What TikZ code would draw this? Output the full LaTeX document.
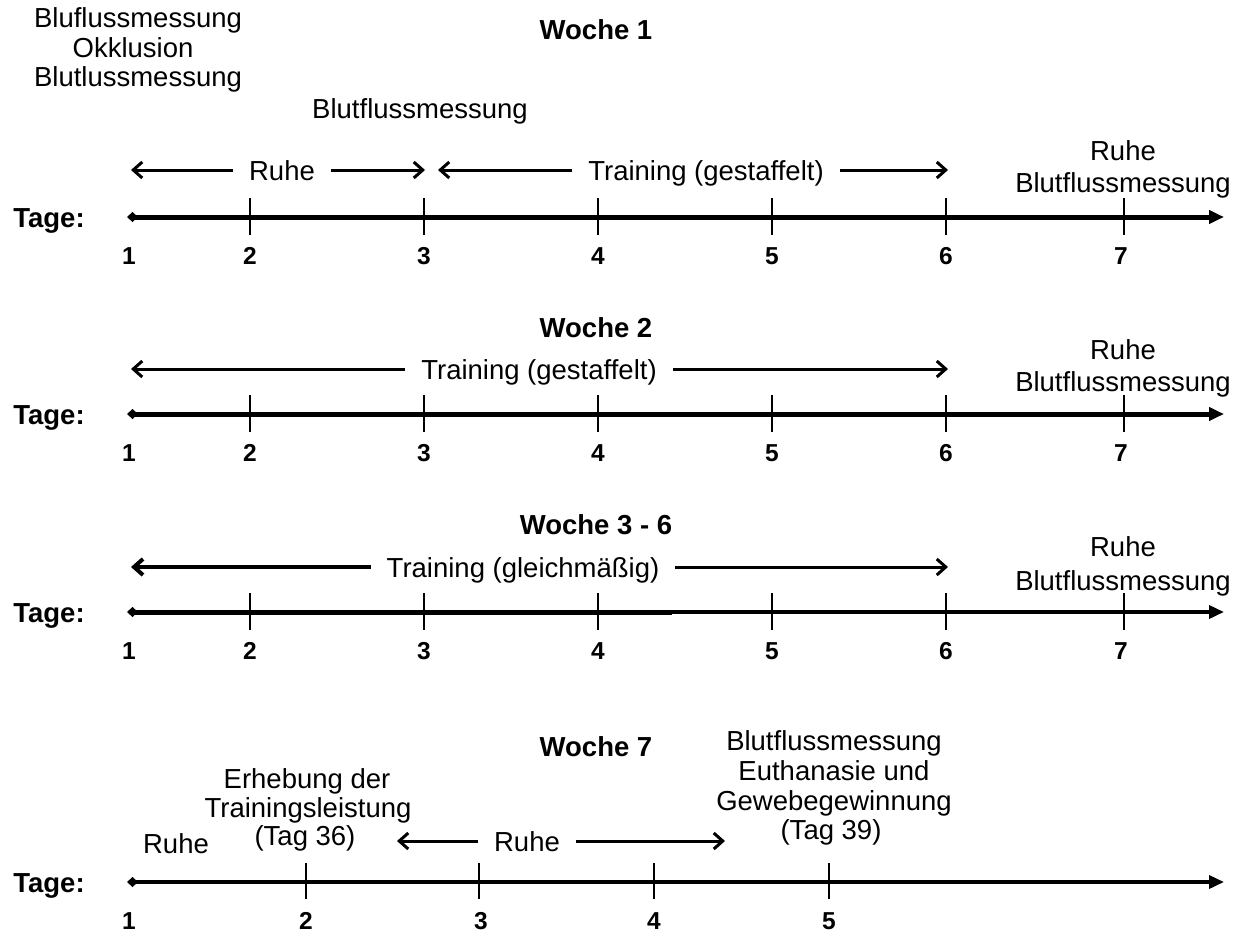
\documentclass[tikz,border=0pt]{standalone}
\usepackage{fontspec}
\setmainfont{Liberation Sans}
\usetikzlibrary{arrows.meta}
\begin{document}
\begin{tikzpicture}[x=1pt,y=-1pt,
 txt/.style={font=\fontsize{27.5}{30}\selectfont, inner sep=0pt, anchor=base},
 hd/.style={font=\bfseries\fontsize{27.5}{30}\selectfont, inner sep=0pt, anchor=base},
 num/.style={font=\bfseries\fontsize{24.5}{28}\selectfont, inner sep=0pt, anchor=base},
 lab/.style={txt, inner xsep=16pt, inner ysep=0pt, text height=20pt, text depth=0pt},
 span/.style={line width=3pt, -{Straight Barb[length=9pt,width=16pt]}},
 spanthick/.style={line width=4pt, -{Straight Barb[length=9pt,width=16pt]}},
 axis/.style={line width=5pt, {Diamond[length=11pt,width=10pt]}-{Triangle[length=15pt,width=13pt]}},
 axisthin/.style={line width=3.5pt, {Diamond[length=11pt,width=10pt]}-{Triangle[length=15pt,width=13pt]}},
 tick/.style={line width=2pt}
]
\fill[white] (0,0) rectangle (1236,934);
\useasboundingbox (0,0) rectangle (1236,934);

% ---------------- Woche 1 ----------------
\node[hd] (w1) at (596,40) {Woche 1};
\node[txt] (m1a) at (138,28) {Bluflussmessung};
\node[txt] (m1b) at (133,57) {Okklusion};
\node[txt] (m1c) at (138,86) {Blutlussmessung};
\node[txt] (m1d) at (420,118) {Blutflussmessung};
\node[lab] (r1) at (282,180) {Ruhe};
\coordinate (r1l) at (131,170);
\coordinate (r1r) at (425,170);
\draw[span] (r1.west) -- (r1l);
\draw[span] (r1.east) -- (r1r);
\node[lab] (t1) at (706,180) {Training (gestaffelt)};
\coordinate (t1l) at (438,170);
\coordinate (t1r) at (948,170);
\draw[span] (t1.west) -- (t1l);
\draw[span] (t1.east) -- (t1r);
\node[txt] (e1a) at (1123,160) {Ruhe};
\node[txt] (e1b) at (1123,192) {Blutflussmessung};
\node[hd] (tg1) at (49,227) {Tage:};
\coordinate (ax1s) at (127,217);
\coordinate (ax1e) at (1224,217);
\draw[axis] (ax1s) -- (ax1e);
\foreach \x in {250,424,598,772,946,1124} \draw[tick] (\x,198) -- (\x,235);
\foreach \x/\n in {129/1,250/2,424/3,598/4,772/5,946/6,1121/7}
  \node[num] (n1-\n) at (\x,264) {\n};

% ---------------- Woche 2 ----------------
\node[hd] (w2) at (596,337) {Woche 2};
\node[lab] (t2) at (539,379) {Training (gestaffelt)};
\coordinate (t2l) at (131,369);
\coordinate (t2r) at (948,369);
\draw[span] (t2.west) -- (t2l);
\draw[span] (t2.east) -- (t2r);
\node[txt] (e2a) at (1123,359) {Ruhe};
\node[txt] (e2b) at (1123,391) {Blutflussmessung};
\node[hd] (tg2) at (49,424) {Tage:};
\coordinate (ax2s) at (127,414);
\coordinate (ax2e) at (1224,414);
\draw[axis] (ax2s) -- (ax2e);
\foreach \x in {250,424,598,772,946,1124} \draw[tick] (\x,395) -- (\x,432);
\foreach \x/\n in {129/1,250/2,424/3,598/4,772/5,946/6,1121/7}
  \node[num] (n2-\n) at (\x,461) {\n};

% ---------------- Woche 3 - 6 ----------------
\node[hd] (w3) at (596,534) {Woche 3 - 6};
\node[lab] (t3) at (523,577) {Training (gleichmäßig)};
\coordinate (t3l) at (131,567);
\coordinate (t3r) at (948,567);
\draw[spanthick] (t3.west) -- (t3l);
\draw[span] (t3.east) -- (t3r);
\node[txt] (e3a) at (1123,556) {Ruhe};
\node[txt] (e3b) at (1123,590) {Blutflussmessung};
\node[hd] (tg3) at (49,622) {Tage:};
\coordinate (ax3s) at (127,612);
\coordinate (ax3m) at (672,612);
\coordinate (ax3e) at (1224,612);
\draw[line width=5pt, {Diamond[length=11pt,width=10pt]}-] (ax3s) -- (ax3m);
\draw[line width=3.5pt, -{Triangle[length=15pt,width=13pt]}] (ax3m) -- (ax3e);
\foreach \x in {250,424,598,772,946,1124} \draw[tick] (\x,593) -- (\x,630);
\foreach \x/\n in {129/1,250/2,424/3,598/4,772/5,946/6,1121/7}
  \node[num] (n3-\n) at (\x,659) {\n};

% ---------------- Woche 7 ----------------
\node[hd] (w7) at (596,756) {Woche 7};
\node[txt] (b7a) at (834,750) {Blutflussmessung};
\node[txt] (b7b) at (834,780) {Euthanasie und};
\node[txt] (b7c) at (834,810) {Gewebegewinnung};
\node[txt] (b7d) at (831,839) {(Tag 39)};
\node[txt] (h7a) at (307,788) {Erhebung der};
\node[txt] (h7b) at (308,817) {Trainingsleistung};
\node[txt] (h7c) at (305,845) {(Tag 36)};
\node[txt] (q7) at (176,853) {Ruhe};
\node[lab] (r7) at (527,851) {Ruhe};
\coordinate (r7l) at (397,841);
\coordinate (r7r) at (725,841);
\draw[span] (r7.west) -- (r7l);
\draw[span] (r7.east) -- (r7r);
\node[hd] (tg7) at (49,892) {Tage:};
\coordinate (ax7s) at (127,882);
\coordinate (ax7e) at (1224,882);
\draw[axisthin] (ax7s) -- (ax7e);
\foreach \x in {306,479,654,829} \draw[tick] (\x,863) -- (\x,899);
\foreach \x/\n in {129/1,306/2,481/3,654/4,829/5}
  \node[num] (n7-\n) at (\x,929) {\n};
\end{tikzpicture}
\end{document}
